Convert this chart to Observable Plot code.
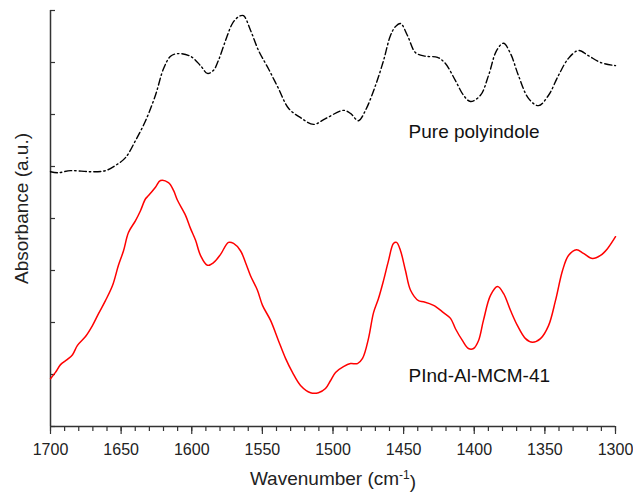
<!DOCTYPE html>
<html><head><meta charset="utf-8">
<script src="https://cdn.jsdelivr.net/npm/d3@7"></script>
<script src="https://cdn.jsdelivr.net/npm/@observablehq/plot@0.6"></script>
<style>html,body{margin:0;padding:0;background:#fff;}</style>
</head><body><div id="chart"></div>
<script>
const wnPure = [1700,1695,1685.8,1671.7,1661.1,1654,1646.9,1639.8,1632.7,1625.7,1620,1615,1610.1,1600.9,1593.8,1588.9,1584.6,1581.1,1576.1,1571.2,1566.9,1563.4,1558.4,1552.7,1545.7,1538.6,1531.5,1523,1513.8,1505.3,1492.6,1487.6,1482,1477,1469.9,1464.2,1459.3,1455.8,1452.2,1447.3,1441.6,1434.5,1426,1420.4,1413.3,1407.6,1402.7,1395.6,1389.9,1384.2,1379.3,1374.3,1368.7,1361.6,1354.5,1347.4,1340.4,1333.3,1326.2,1319.1,1310.6,1300];
const absPure = [4.90,4.88,4.92,4.90,4.92,5.02,5.17,5.50,5.88,6.37,6.88,7.12,7.17,7.12,6.94,6.79,6.85,7.04,7.42,7.75,7.88,7.90,7.62,7.23,6.88,6.50,6.12,5.94,5.81,5.92,6.08,6.02,5.88,6.08,6.56,7.04,7.52,7.69,7.75,7.52,7.19,7.12,7.10,6.98,6.65,6.37,6.25,6.37,6.75,7.23,7.37,7.17,6.75,6.31,6.17,6.37,6.75,7.08,7.23,7.13,7.00,6.94];
const wnPInd = [1700,1696.5,1692.9,1688,1684.4,1680.9,1675.2,1670.3,1666,1661.1,1656.1,1651.9,1648.3,1644.8,1639.8,1636.3,1632.7,1630.6,1625.7,1622.1,1616.5,1612.9,1610.1,1604.4,1600.9,1597.3,1593.8,1588.9,1584.6,1579.6,1574,1570.4,1565.5,1561.9,1558.4,1553.5,1549.9,1544.2,1538.6,1533.6,1528.7,1523,1515.9,1510.3,1505.3,1501.8,1498.2,1492.6,1487.6,1482.7,1479.1,1474.9,1471.3,1467.8,1464.2,1460.7,1457.2,1455,1452.2,1448.7,1445.1,1439.5,1435.9,1428.8,1421.8,1416.8,1413.3,1408.3,1404.1,1400.5,1397,1393.5,1388.5,1383.5,1379.3,1374.3,1369.4,1363.7,1358.8,1353.1,1347.4,1342.5,1337.5,1333.3,1327.6,1322.7,1316.3,1310.6,1305.7,1300];
const absPInd = [0.92,1.04,1.19,1.29,1.38,1.56,1.73,1.94,2.17,2.42,2.71,3.10,3.38,3.73,3.96,4.15,4.38,4.44,4.60,4.73,4.69,4.54,4.35,4.06,3.81,3.58,3.29,3.10,3.15,3.31,3.54,3.52,3.38,3.15,2.90,2.62,2.33,2.04,1.65,1.31,1.04,0.79,0.65,0.65,0.73,0.88,1.04,1.15,1.21,1.21,1.31,1.69,2.19,2.46,2.81,3.19,3.52,3.54,3.38,3.00,2.62,2.42,2.40,2.33,2.19,2.08,1.88,1.65,1.50,1.50,1.65,2.04,2.52,2.69,2.56,2.23,1.94,1.69,1.62,1.69,1.94,2.42,3.00,3.29,3.40,3.33,3.23,3.29,3.42,3.65];
const majorTicks = [1700,1650,1600,1550,1500,1450,1400,1350,1300];
const minorTicks = d3.range(1300, 1701, 10);
const yTicks = [0,1,2,3,4,5,6,7,8];
const labels = [
  {text: "Pure polyindole", wn: 1446.5, a: 5.67},
  {text: "PInd-Al-MCM-41", wn: 1446.5, a: 0.98}
];

const pure = wnPure.map((w,i)=>({w, a: absPure[i]}));
const pind = wnPInd.map((w,i)=>({w, a: absPInd[i]}));

const plot = Plot.plot({
  width: 633, height: 492,
  marginLeft: 50, marginRight: 18, marginTop: 10, marginBottom: 66,
  x: {domain: [1700, 1300]},
  y: {domain: [0, 8]},
  style: {fontFamily: "'Liberation Sans', Arial, sans-serif", fontSize: "16px", color: "#222", background: "#fff"},
  marks: [
    Plot.axisX({ticks: minorTicks, tickSize: 5, tickFormat: () => "", label: null, stroke: "#333", strokeWidth: 1.2}),
    Plot.axisX({ticks: majorTicks, tickSize: 8, tickPadding: 9, fontSize: 16, tickFormat: d => String(d), label: "Wavenumber (cm-1)", labelArrow: "none", labelAnchor: "center", labelOffset: 58, stroke: "#333", strokeWidth: 1.2}),
    Plot.axisY({ticks: yTicks, tickSize: -5, tickFormat: () => "", label: "Absorbance (a.u.)", labelArrow: "none", labelAnchor: "center", labelOffset: 36, stroke: "#333", strokeWidth: 1.2}),
    Plot.ruleX([1700], {stroke: "#333", strokeWidth: 1.5}),
    Plot.ruleY([0], {stroke: "#333", strokeWidth: 1.5}),
    Plot.line(pure, {x: "w", y: "a", stroke: "#000", strokeWidth: 1.4, strokeDasharray: "7,3,1.5,3", curve: "catmull-rom"}),
    Plot.line(pind, {x: "w", y: "a", stroke: "#ff0000", strokeWidth: 1.5, curve: "catmull-rom"}),
    Plot.text(labels, {x: "wn", y: "a", text: "text", textAnchor: "start", fontSize: 19, fill: "#111"})
  ]
});
document.getElementById("chart").appendChild(plot);
// style axis labels with superscript
d3.select(plot).selectAll("text").each(function() {
  const t = d3.select(this);
  const s = t.text().trim();
  if (s.includes("Wavenumber")) {
    t.text(null).attr("font-size", 19);
    t.append("tspan").text("Wavenumber (cm");
    t.append("tspan").attr("dy", "-0.45em").attr("font-size", 12).text("-1");
    t.append("tspan").attr("dy", "0.45em").text(")");
  } else if (s.includes("Absorbance")) {
    t.attr("font-size", 19);
    const tr = t.attr("transform") || "";
    t.attr("transform", "translate(0,-10) " + tr);
  }
});
</script></body></html>
